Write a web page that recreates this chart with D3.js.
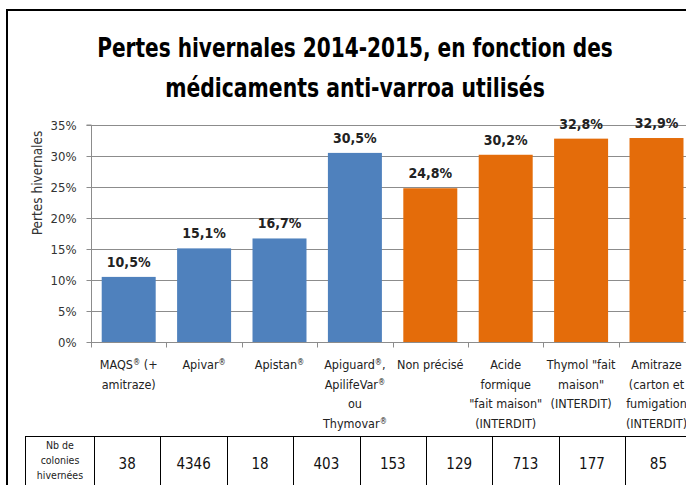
<!DOCTYPE html>
<html><head><meta charset="utf-8">
<script src="https://cdn.jsdelivr.net/npm/d3@7/dist/d3.min.js"></script>
<style>
body{margin:0;background:#fff;overflow:hidden}
svg{display:block}
</style></head><body>
<svg id="c" width="686" height="485"></svg>
<script>
const categories = [
  ["MAQS® (+","amitraze)"],
  ["Apivar®"],
  ["Apistan®"],
  ["Apiguard®,","ApilifeVar®","ou","Thymovar®"],
  ["Non précisé"],
  ["Acide","formique","\"fait maison\"","(INTERDIT)"],
  ["Thymol \"fait","maison\"","(INTERDIT)"],
  ["Amitraze","(carton et","fumigation","(INTERDIT)"]
];
const categoryIds = ["MAQS","Apivar","Apistan","Apiguard","NonPrecise","Acide","Thymol","Amitraze","Extra"];
const losses = [0.105, 0.151, 0.167, 0.305, 0.248, 0.302, 0.328, 0.329];
const lossLabels = ["10,5%","15,1%","16,7%","30,5%","24,8%","30,2%","32,8%","32,9%"];
const groups = ["approved","approved","approved","approved","other","other","other","other"];
const colonies = ["38","4346","18","403","153","129","713","177","85"];
const yTicks = [0,0.05,0.10,0.15,0.20,0.25,0.30,0.35];
const yTickLabels = ["0%","5%","10%","15%","20%","25%","30%","35%"];
const titleLines = ["Pertes hivernales 2014-2015, en fonction des","médicaments anti-varroa utilisés"];
const rowLabel = ["Nb de","colonies","hivernées"];

const svg = d3.select("#c");
const font = "'Liberation Sans Narrow','DejaVu Sans Condensed',sans-serif";
const colors = {approved:"#4F81BD", other:"#E46C0A"};

// frame
svg.append("path").attr("d","M7,486 V10 H686").attr("fill","none").attr("stroke","#000").attr("stroke-width",2);

// title: fit each line to its width in the reference
const tl = svg.append("g");
[[titleLines[0],355,57,516],[titleLines[1],355,97,380]].forEach(([t,x,y,w])=>{
  const g = tl.append("g").attr("transform",`translate(${x},${y})`);
  const txt = g.append("text").attr("x",0).attr("y",0).attr("text-anchor","middle")
    .attr("font-family",font).attr("font-weight","bold").attr("font-size",27)
    .attr("fill","#000").text(t);
  const w0 = txt.node().getComputedTextLength();
  g.attr("transform",`translate(${x},${y}) scale(${w/w0},1)`);
});

const y = d3.scaleLinear().domain([0,0.35]).range([342,125]);
const x = d3.scaleBand().domain(categoryIds).range([91, 91+9*75.4]).paddingInner(0.284).paddingOuter(0.142);

// gridlines
svg.append("g").selectAll("line").data(yTicks.slice(1)).join("line")
  .attr("x1",91).attr("x2",686).attr("y1",d=>Math.round(y(d))+0.5).attr("y2",d=>Math.round(y(d))+0.5)
  .attr("stroke","#8C8C8C").attr("stroke-width",1);

// y axis
const yAxis = d3.axisLeft(y).tickValues(yTicks).tickFormat((d,i)=>yTickLabels[i]).tickSize(5).tickPadding(10);
const ga = svg.append("g").attr("transform","translate(91.5,0)").call(yAxis);
ga.select(".domain").attr("stroke","#8C8C8C").attr("d","M-5,"+y(0.35)+"H0V"+(y(0)+0.5));
ga.selectAll(".tick line").attr("stroke","#8C8C8C");
ga.selectAll(".tick text").attr("font-family",font).attr("font-size",13).attr("fill","#333");

// x axis baseline & ticks
const gx = svg.append("g").attr("transform","translate(0,"+(Math.round(y(0))+0.5)+")");
gx.append("line").attr("x1",91).attr("x2",686).attr("stroke","#8C8C8C");
gx.selectAll(".xt").data(categoryIds).join("line").attr("class","xt")
  .attr("x1",d=>Math.round(x(d)-x.step()*x.paddingInner()/2)+0.5).attr("x2",d=>Math.round(x(d)-x.step()*x.paddingInner()/2)+0.5)
  .attr("y1",0).attr("y2",5).attr("stroke","#8C8C8C");

// y title
svg.append("text").attr("transform","translate(42,183) rotate(-90)").attr("text-anchor","middle")
  .attr("font-family",font).attr("font-size",13.5).attr("fill","#333").text("Pertes hivernales");

// bars
const data = losses.map((v,i)=>({id:categoryIds[i],v,label:lossLabels[i],g:groups[i],lines:categories[i]}));
svg.append("g").selectAll("rect").data(data).join("rect")
  .attr("x",d=>x(d.id)).attr("width",x.bandwidth())
  .attr("y",d=>y(d.v)).attr("height",d=>y(0)-y(d.v)).attr("fill",d=>colors[d.g]);

// value labels
svg.append("g").selectAll("text").data(data).join("text")
  .attr("x",d=>x(d.id)+x.bandwidth()/2).attr("y",d=>y(d.v)-10).attr("text-anchor","middle")
  .attr("font-family",font).attr("font-weight","bold").attr("font-size",14).attr("fill","#222").text(d=>d.label);

// category labels (® as small superscript)
const cl = svg.append("g");
data.forEach(d=>{
  const cx = x(d.id)+x.bandwidth()/2;
  d.lines.forEach((ln,j)=>{
    const t = cl.append("text").attr("x",cx).attr("y",369+j*19.5).attr("text-anchor","middle")
      .attr("font-family",font).attr("font-size",12.5).attr("fill","#222");
    const parts = ln.split("®");
    parts.forEach((part,k)=>{
      if(part.length) t.append("tspan").attr("dy",k>0?4:null).text(part);
      if(k<parts.length-1) t.append("tspan").attr("font-size",8).attr("dy",-4).text("®");
    });
  });
});

// table
const tx = d3.scaleBand().domain(colonies.map((c,i)=>i)).range([94, 94+9*66.4]);
const tg = svg.append("g");
tg.append("line").attr("x1",25).attr("x2",686).attr("y1",436.5).attr("y2",436.5).attr("stroke","#000");
tg.append("line").attr("x1",25.5).attr("x2",25.5).attr("y1",436).attr("y2",486).attr("stroke","#000");
tg.selectAll(".vl").data(colonies).join("line").attr("class","vl")
  .attr("x1",(d,i)=>Math.round(tx(i))+0.5).attr("x2",(d,i)=>Math.round(tx(i))+0.5)
  .attr("y1",436).attr("y2",486).attr("stroke","#000");
tg.selectAll(".num").data(colonies).join("text").attr("class","num")
  .attr("x",(d,i)=>tx(i)+tx.bandwidth()/2).attr("y",469).attr("text-anchor","middle")
  .attr("font-family",font).attr("font-size",15).attr("fill","#111").text(d=>d);
rowLabel.forEach((t,j)=>{
  tg.append("text").attr("x",60).attr("y",449+j*15).attr("text-anchor","middle")
    .attr("font-family",font).attr("font-size",10.5).attr("fill","#222").text(t);
});
</script>
</body></html>
